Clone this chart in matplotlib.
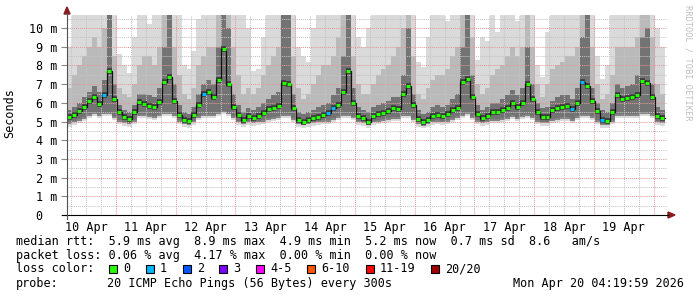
import numpy as np
import matplotlib
matplotlib.use("Agg")
import matplotlib.pyplot as plt
from matplotlib.patches import Rectangle, Polygon

W, H = 697, 297
plt.rcParams['font.family'] = 'DejaVu Sans Mono'
FS = 8.5

#- time axis: hours since Apr 10 00:00, 2h consolidated steps
t_start = 4 + 20 / 60.
step_h = 2.0

#- median rtt per step (ms)
median_ms = [5.25, 5.35, 5.55, 5.8, 6.1, 6.3, 5.95, 6.4, 7.7, 6.2, 5.5, 5.25,
             5.15, 5.5, 6.05, 5.95, 5.85, 5.8, 6.05, 7.1, 7.4, 6.1, 5.35, 5.1,
             5.05, 5.35, 5.9, 6.5, 6.6, 6.3, 7.2, 8.9, 7.0, 5.8, 5.35, 5.1,
             5.3, 5.2, 5.3, 5.45, 5.65, 5.75, 5.85, 7.05, 7.0, 5.7, 5.1, 5.0,
             5.1, 5.2, 5.25, 5.35, 5.45, 5.75, 5.9, 6.6, 7.7, 6.0, 5.3, 5.2,
             5.0, 5.3, 5.4, 5.45, 5.55, 5.7, 5.65, 6.5, 6.9, 5.9, 5.15, 4.95,
             5.1, 5.3, 5.35, 5.3, 5.4, 5.6, 5.75, 7.1, 7.3, 6.3, 5.4, 5.2,
             5.3, 5.5, 5.5, 5.6, 5.75, 6.0, 5.8, 6.0, 7.0, 6.2, 5.5, 5.25,
             5.25, 5.6, 5.7, 5.8, 5.85, 5.65, 6.0, 7.1, 6.9, 6.1, 5.55, 5.1,
             5.05, 5.5, 6.4, 6.2, 6.25, 6.3, 6.4, 7.15, 7.05, 6.3, 5.3, 5.2]

#- lost packets per step (of 20)
loss = [0] * 120
for k in (7, 27, 52, 53, 101, 103, 107):
    loss[k] = 1

#- smoke envelope per step (ms)
smoke_lo = [4.85, 4.95, 5.05, 5.15, 5.3, 5.4, 5.3, 5.4, 5.4, 5.2, 5.0, 4.9,
            4.85, 5.0, 5.3, 5.3, 5.25, 5.2, 5.3, 5.4, 5.4, 5.3, 5.0, 4.85,
            4.8, 4.95, 5.2, 5.3, 5.3, 5.3, 5.4, 5.5, 5.4, 5.2, 4.95, 4.85,
            4.95, 4.9, 4.95, 5.0, 5.1, 5.15, 5.2, 5.3, 5.3, 5.1, 4.85, 4.8,
            4.85, 4.9, 4.95, 5.0, 5.0, 5.1, 5.2, 5.3, 5.3, 5.2, 4.95, 4.9,
            4.8, 4.95, 5.0, 5.05, 5.1, 5.15, 5.15, 5.3, 5.3, 5.1, 4.85, 4.75,
            4.85, 4.95, 5.0, 4.95, 5.0, 5.1, 5.2, 5.3, 5.4, 5.2, 5.0, 4.9,
            4.95, 5.05, 5.05, 5.1, 5.15, 5.25, 5.15, 5.25, 5.3, 5.2, 5.0, 4.9,
            4.9, 5.05, 5.1, 5.15, 5.15, 5.05, 5.2, 5.3, 5.3, 5.2, 5.0, 4.8,
            4.8, 5.0, 5.3, 5.3, 5.3, 5.3, 5.3, 5.4, 5.4, 5.3, 4.95, 4.9]
smoke_dark = [5.6, 5.8, 6.0, 6.3, 6.6, 6.9, 6.6, 7.2, 10.7, 7.0, 5.9, 5.6,
              5.5, 5.9, 6.5, 6.5, 6.4, 6.3, 6.8, 9.0, 10.7, 7.0, 5.9, 5.5,
              5.4, 5.8, 6.5, 7.0, 7.2, 7.0, 9.0, 10.7, 10.0, 6.5, 5.9, 5.5,
              5.7, 5.6, 5.8, 6.0, 6.2, 6.4, 6.6, 10.7, 10.7, 6.5, 5.5, 5.4,
              5.5, 5.6, 5.8, 5.9, 6.0, 6.4, 6.8, 8.5, 10.7, 6.8, 5.8, 5.6,
              5.5, 5.8, 5.9, 6.0, 6.1, 6.3, 6.3, 7.5, 10.0, 6.5, 5.6, 5.4,
              5.5, 5.8, 5.9, 5.8, 5.9, 6.2, 6.5, 9.0, 10.7, 7.5, 5.9, 5.6,
              5.8, 6.0, 6.0, 6.2, 6.4, 6.7, 6.4, 6.8, 9.0, 7.0, 6.0, 5.7,
              5.8, 6.1, 6.3, 6.4, 6.4, 6.2, 6.8, 9.5, 10.7, 6.8, 6.0, 5.6,
              5.5, 6.0, 7.0, 6.8, 6.9, 7.0, 7.5, 9.5, 10.0, 7.0, 5.8, 5.6]
smoke_mid = [6.8, 7.5, 8.0, 8.5, 9.0, 9.5, 9.0, 10.0, 10.7, 8.5, 6.8, 6.5,
             6.3, 7.0, 8.0, 8.5, 8.5, 8.0, 9.0, 10.7, 10.7, 9.0, 7.5, 6.5,
             6.2, 6.8, 8.0, 8.5, 9.0, 9.0, 10.7, 10.7, 10.7, 9.0, 7.5, 6.5,
             6.8, 6.5, 6.8, 7.5, 8.0, 8.5, 9.0, 10.7, 10.7, 8.5, 6.8, 6.2,
             6.5, 7.0, 7.5, 8.0, 8.0, 8.5, 9.5, 10.7, 10.7, 8.5, 7.0, 6.5,
             6.5, 7.0, 7.5, 7.8, 8.0, 8.5, 9.0, 10.0, 10.7, 8.5, 6.5, 6.2,
             6.8, 7.2, 7.5, 7.5, 7.8, 8.5, 9.0, 10.7, 10.7, 9.5, 7.0, 6.5,
             6.8, 7.5, 7.8, 8.0, 8.5, 9.0, 8.5, 9.0, 10.7, 9.0, 7.0, 6.3,
             7.0, 7.8, 8.0, 8.2, 8.5, 8.5, 9.0, 10.7, 10.7, 9.0, 7.0, 6.2,
             6.5, 7.5, 9.0, 9.0, 9.0, 9.0, 9.5, 10.7, 10.7, 9.5, 7.0, 6.5]
smoke_top = [9.0, 10.7, 10.7, 10.7, 10.7, 10.7, 10.7, 10.7, 10.7, 10.7, 8.6, 8.0,
             7.6, 9.5, 10.7, 10.7, 10.2, 10.7, 10.7, 10.7, 10.7, 10.7, 10.7, 8.0,
             7.8, 8.8, 10.5, 10.7, 10.7, 10.7, 10.7, 10.7, 10.7, 10.7, 10.7, 10.7,
             10.0, 7.7, 7.8, 9.5, 10.7, 10.7, 10.7, 10.7, 10.7, 10.7, 9.0, 8.5,
             8.2, 10.0, 10.7, 10.7, 10.7, 10.7, 10.7, 10.7, 10.7, 10.7, 9.5, 9.0,
             10.0, 10.7, 10.7, 10.7, 10.7, 10.7, 10.7, 10.7, 10.7, 10.7, 8.2, 7.9,
             9.5, 10.7, 10.7, 10.7, 10.4, 10.7, 10.7, 10.7, 10.7, 10.7, 8.3, 9.5,
             9.3, 10.7, 9.8, 10.7, 10.7, 10.7, 10.4, 10.7, 10.7, 10.7, 8.0, 7.4,
             9.8, 10.7, 10.7, 10.7, 10.7, 10.7, 10.7, 10.7, 10.7, 10.7, 8.5, 7.3,
             8.0, 10.7, 10.7, 10.7, 10.7, 10.7, 10.7, 10.7, 10.7, 10.7, 10.0, 9.0]

day_labels = ["10 Apr", "11 Apr", "12 Apr", "13 Apr", "14 Apr",
              "15 Apr", "16 Apr", "17 Apr", "18 Apr", "19 Apr"]
ytick_vals = [0, 1, 2, 3, 4, 5, 6, 7, 8, 9, 10]
ytick_labels = ["0  ", "1 m", "2 m", "3 m", "4 m", "5 m", "6 m", "7 m", "8 m", "9 m", "10 m"]

loss_names = ["0", "1", "2", "3", "4-5", "6-10", "11-19", "20/20"]
loss_colors = ["#26ff00", "#00b8ff", "#0059ff", "#7e00ff", "#ff00ff", "#ff5500", "#ff0000", "#a10000"]
loss_box_x = [109, 146, 183, 219, 256, 307, 366, 431]

stats_rtt = "median rtt:  5.9 ms avg  8.9 ms max  4.9 ms min  5.2 ms now  0.7 ms sd  8.6   am/s"
stats_loss = "packet loss: 0.06 % avg  4.17 % max  0.00 % min  0.00 % now"
probe_txt = "20 ICMP Echo Pings (56 Bytes) every 300s"
stamp_txt = "Mon Apr 20 04:19:59 2026"


def fx(px):
    return px / W


def fy(py):
    return 1 - py / H


fig = plt.figure(figsize=(W / 100, H / 100), dpi=100)
ax = fig.add_axes([fx(67), fy(215), fx(600), 200 / H])

n = len(median_ms)
x_edges = t_start + step_h * np.arange(n + 1)
t_end = x_edges[-1]


def ext(a):
    a = np.asarray(a, float)
    return np.append(a, a[-1])


#- smoke: light -> mid -> dark layers, soft edges by alpha overlays
lo = ext(smoke_lo)
ax.fill_between(x_edges, lo - 0.12, ext(smoke_top), step='post', color='#dadada', lw=0, zorder=1)
ax.fill_between(x_edges, lo, ext(smoke_mid), step='post', color='#a0a0a0', alpha=0.55, lw=0, zorder=1.1)
ax.fill_between(x_edges, lo, ext(smoke_dark), step='post', color='#505050', alpha=0.5, lw=0, zorder=1.2)
ax.fill_between(x_edges, lo + 0.08, ext(smoke_dark), step='post', color='#303030', alpha=0.2, lw=0, zorder=1.3)

#- grid
for d in range(0, 41):
    h = d * 6
    if h <= t_start or h >= t_end:
        continue
    if h % 24 == 0:
        ax.axvline(h, color='#e49a9a', lw=0.75, ls=(0, (1, 1)), zorder=2.1)
    else:
        ax.axvline(h, color='#c4c4c4', lw=0.75, ls=(0, (1, 1)), zorder=2)
for v in np.arange(0.5, 10.6, 0.5):
    if v == int(v):
        ax.axhline(v, color='#e49a9a', lw=0.75, ls=(0, (1, 1)), zorder=2.1)
    else:
        ax.axhline(v, color='#c4c4c4', lw=0.75, ls=(0, (1, 1)), zorder=2)

#- median
med = np.asarray(median_ms)
ax.hlines(med, x_edges[:-1], x_edges[1:], color='#3a3a3a', lw=4.0, zorder=3)
ax.step(x_edges, ext(med), where='post', color='#111111', lw=0.9, zorder=4)
ax.hlines(med, x_edges[:-1] + 0.2, x_edges[1:] - 0.2,
          colors=[loss_colors[l] for l in loss], lw=2.2, zorder=5)

ax.set_xlim(t_start, t_end + 1.0)
ax.set_ylim(0, 10.7)
for s in ax.spines.values():
    s.set_visible(False)
ax.set_yticks(ytick_vals)
ax.set_yticklabels(ytick_labels, fontsize=FS)
ax.set_xticks([12 + 24 * d for d in range(len(day_labels))])
ax.set_xticklabels(day_labels, fontsize=FS)
ax.tick_params(axis='x', length=0, pad=4)
ax.tick_params(axis='y', length=4, color='#888888', pad=3)

#- axis lines and arrows
fig.add_artist(plt.Line2D([fx(62), fx(668)], [fy(215), fy(215)], color='black', lw=0.8))
fig.add_artist(plt.Line2D([fx(67), fx(67)], [fy(219), fy(12)], color='#505050', lw=0.8))
fig.add_artist(Polygon([[fx(64), fy(14)], [fx(70), fy(14)], [fx(67), fy(7)]], closed=True, color='#8b1a1a'))
fig.add_artist(Polygon([[fx(668), fy(212)], [fx(668), fy(218)], [fx(675), fy(215)]], closed=True, color='#8b1a1a'))

fig.text(fx(10), fy(113), "Seconds", rotation=90, ha='center', va='center', fontsize=FS)
fig.text(fx(688), fy(5), "RRDTOOL / TOBI OETIKER", rotation=270, ha='center', va='top',
         fontsize=6.2, color='#c0c0c0')

#- legend
fig.text(fx(16), fy(241), stats_rtt, ha='left', va='center', fontsize=FS)
fig.text(fx(16), fy(255), stats_loss, ha='left', va='center', fontsize=FS)
fig.text(fx(16), fy(269), "loss color:", ha='left', va='center', fontsize=FS)
for bx, c, name in zip(loss_box_x, loss_colors, loss_names):
    fig.add_artist(Rectangle((fx(bx), fy(273)), 8 / W, 8 / H, facecolor=c, edgecolor='black', lw=0.8))
    fig.text(fx(bx + 14), fy(269), name, ha='left', va='center', fontsize=FS)
fig.text(fx(16), fy(283), "probe:", ha='left', va='center', fontsize=FS)
fig.text(fx(107), fy(283), probe_txt, ha='left', va='center', fontsize=FS)
fig.text(fx(513), fy(283), stamp_txt, ha='left', va='center', fontsize=FS)

plt.savefig("out.png", dpi=100)
